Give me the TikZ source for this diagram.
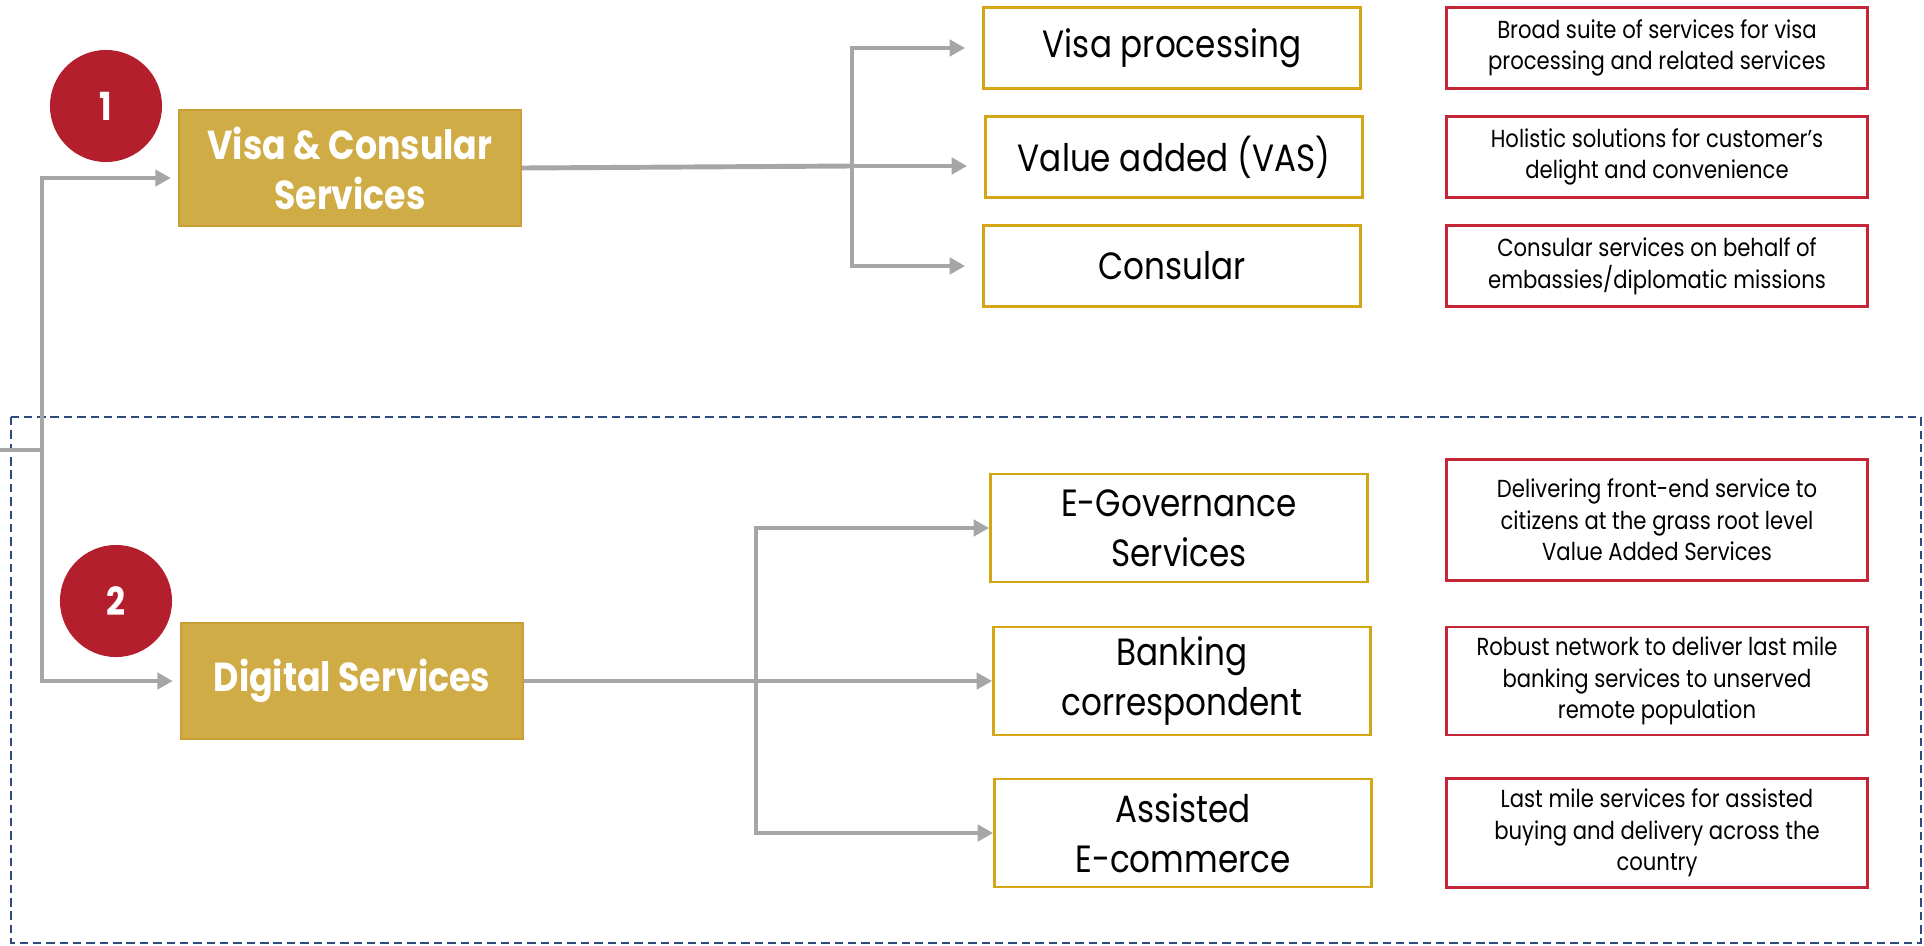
\documentclass[tikz,border=0pt]{standalone}
\usepackage{fontspec}
\setmainfont{Poppins}[FakeStretch=0.86]
\usepackage{tikz}
\usetikzlibrary{arrows.meta}
\definecolor{gold}{HTML}{CFAC45}
\definecolor{goldline}{HTML}{C9A033}
\definecolor{boxline}{HTML}{D4A514}
\definecolor{badgered}{HTML}{B41F2E}
\definecolor{descred}{HTML}{C42637}
\definecolor{linkgray}{HTML}{A6A6A6}
\definecolor{dashblue}{HTML}{2F4A7C}

\begin{document}
\begin{tikzpicture}[
			x=0.01cm, y=-0.01cm,
			every node/.style={align=center, inner sep=0pt},
			mainbox/.style={fill=gold, draw=goldline, line width=0.6pt, text=white, font=\fontsize{11.5}{14.2}\selectfont\bfseries, minimum width=3.42cm, minimum height=1.16cm},
			badge/.style={circle, fill=badgered, text=white, font=\fontsize{11}{13}\selectfont\bfseries, minimum size=1.12cm},
			subbox/.style={draw=boxline, line width=0.7pt, fill=white, font=\fontsize{10.8}{14.2}\selectfont, minimum width=3.77cm},
			descbox/.style={draw=descred, line width=0.8pt, font=\fontsize{7}{9}\selectfont, minimum width=4.2cm},
			link/.style={draw=linkgray, line width=1.4pt},
			arrow/.style={link, -{Triangle[length=4.4pt, width=4.6pt]}},
			frame/.style={draw=dashblue, line width=0.45pt, dash pattern=on 2.4pt off 1.4pt}
			]
			\useasboundingbox (0,0) rectangle (1924,945);
			\draw[frame] (11,417) rectangle (1921,943);

			\node[badge] (n1) at (106,106) {1};
			\node[badge] (n2) at (116,601) {2};
			\node[mainbox] (visa) at (350,168) {Visa \& Consular\\Services};
			\node[mainbox] (digital) at (352,681) {Digital Services};

			\node[subbox, minimum height=0.81cm] (vp) at (1172,48) {Visa processing};
			\node[subbox, minimum height=0.81cm] (vas) at (1174,157) {Value added (VAS)};
			\node[subbox, minimum height=0.81cm] (cons) at (1172,266) {Consular};
			\node[subbox, minimum height=1.08cm] (egov) at (1179,528) {E-Governance\\Services};
			\node[subbox, minimum height=1.08cm] (bank) at (1182,681) {Banking\\correspondent};
			\node[subbox, minimum height=1.08cm] (ecom) at (1183,833) {Assisted\\E-commerce};

			\node[descbox, minimum height=0.81cm] (d1) at (1657,48) {Broad suite of services for visa\\processing and related services};
			\node[descbox, minimum height=0.81cm] (d2) at (1657,157) {Holistic solutions for customer’s\\delight and convenience};
			\node[descbox, minimum height=0.81cm] (d3) at (1657,266) {Consular services on behalf of\\embassies/diplomatic missions};
			\node[descbox, minimum height=1.21cm] (d4) at (1657,520) {Delivering front-end service to\\citizens at the grass root level\\Value Added Services};
			\node[descbox, minimum height=1.08cm] (d5) at (1657,681) {Robust network to deliver last mile\\banking services to unserved\\remote population};
			\node[descbox, minimum height=1.09cm] (d6) at (1657,833) {Last mile services for assisted\\buying and delivery across the\\country};

			\coordinate (src) at (0,450);
			\coordinate (jn) at (42,450);
			\coordinate (b1) at (852,166);
			\coordinate (b2) at (756,681);

			\draw[link] (src) -- (jn);
			\draw[arrow, shorten >=0.07cm] (jn) |- ([yshift=-0.1cm]visa.west);
			\draw[arrow, shorten >=0.07cm] (jn) |- (digital.west);

			\draw[link] (visa.east) -- (b1);
			\draw[arrow, shorten >=0.17cm] (b1) |- (vp.west);
			\draw[arrow, shorten >=0.17cm] (b1) -- (b1 -| vas.west);
			\draw[arrow, shorten >=0.17cm] (b1) |- (cons.west);

			\draw[link] (digital.east) -- (b2);
			\draw[arrow] (b2) |- (egov.west);
			\draw[arrow] (b2) -- (b2 -| bank.west);
			\draw[arrow] (b2) |- (ecom.west);
		\end{tikzpicture}
\end{document}
